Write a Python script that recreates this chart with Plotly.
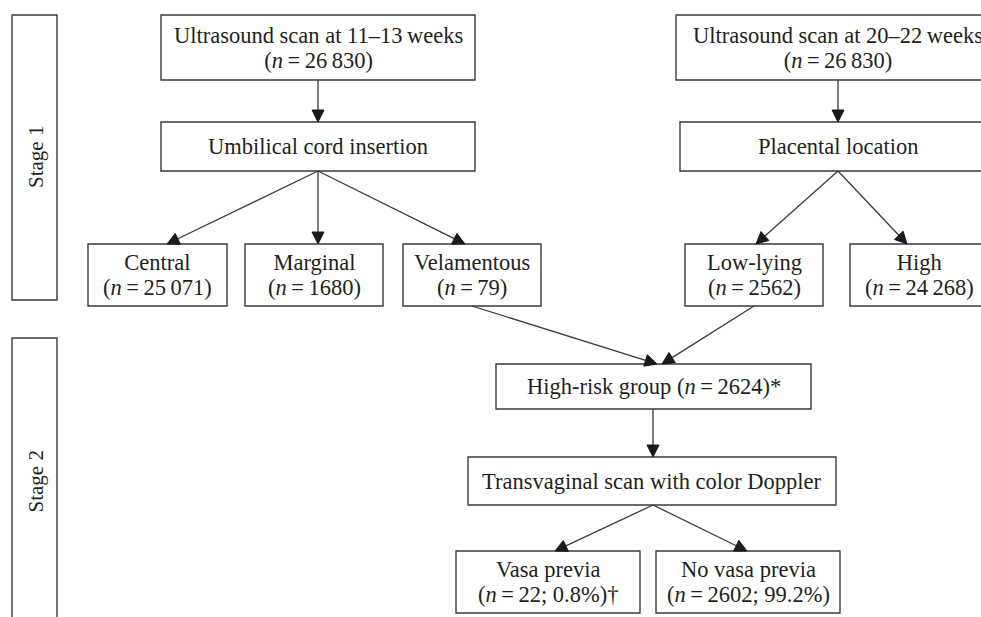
import math
import plotly.graph_objects as go

# ---- data (labels and counts) ----
node_names = ["Ultrasound scan at 11–13\u2009weeks", "Umbilical cord insertion",
              "Central", "Marginal", "Velamentous",
              "Ultrasound scan at 20–22\u2009weeks", "Placental location",
              "Low-lying", "High",
              "High-risk group", "Transvaginal scan with color Doppler",
              "Vasa previa", "No vasa previa"]
node_counts = ["26\u2009830", None, "25\u2009071", "1680", "79",
               "26\u2009830", None, "2562", "24\u2009268",
               "2624", None, "22", "2602"]
node_pcts = [None, None, None, None, None, None, None, None, None,
             None, None, "0.8%", "99.2%"]
node_marks = ["", "", "", "", "", "", "", "", "", "*", "", "†", ""]
stage_labels = ["Stage 1", "Stage 2"]

# edges: parent index -> child index
edge_from = [0, 1, 1, 1, 5, 6, 6, 4, 7, 9, 10, 10]
edge_to = [1, 2, 3, 4, 6, 7, 8, 9, 9, 10, 11, 12]

# ---- layout geometry (pixels) ----
W, H = 981, 617
boxes = [  # x0, x1, y0, y1
    (161, 475, 15, 80), (161, 475, 122, 171),
    (88, 227, 244, 306), (245, 383, 244, 306), (403, 541, 244, 306),
    (676, 1000, 15, 80), (680, 996, 122, 171),
    (685, 823, 244, 306), (850, 988, 244, 306),
    (496, 811, 364, 409), (468, 836, 457, 505),
    (456, 640, 551, 613), (656, 840, 551, 613),
]
inline_count = [False] * 13
inline_count[9] = True
edge_start_x = [318, 318, 318, 318, 838, 838, 838, 472, 754, 653, 653, 653]
edge_tip_x = [318, 167, 318, 465, 838, 756, 907, 657, 662, 653, 555, 747]
stage_boxes = [(12, 57, 15, 300), (12, 57, 338, 626)]

TXT = "#231f20"
LINE = "#3a3a3a"
FONT = "Liberation Serif"
FS = 22.5          # glyph size
BASE = 19.3        # base size -> line spacing 1.3*19.3 = 25px

shapes = []
annotations = []

def text(x, y, s, size=FS, angle=0, base=None):
    base = base or size
    annotations.append(dict(x=x, y=y, xref="x", yref="y",
                            text=f'<span style="font-size:{size}px">{s}</span>',
                            showarrow=False, xanchor="center", yanchor="middle",
                            textangle=angle, borderpad=0,
                            font=dict(family=FONT, size=base, color=TXT)))

for (x0, x1, y0, y1) in boxes:
    shapes.append(dict(type="rect", xref="x", yref="y", x0=x0, x1=x1, y0=y0, y1=y1,
                       line=dict(color=LINE, width=1.4), fillcolor="rgba(0,0,0,0)"))

eq = "\u2009=\u2009"
for i, (x0, x1, y0, y1) in enumerate(boxes):
    cx = (x0 + x1) / 2
    cy = (y0 + y1) / 2
    name = node_names[i]
    cnt = node_counts[i]
    if cnt is None:
        text(cx, cy, name)
    elif inline_count[i]:
        text(cx, cy, f"{name} (<i>n</i>{eq}{cnt}){node_marks[i]}")
    else:
        inner = f"<i>n</i>{eq}{cnt}"
        if node_pcts[i]:
            inner += f"; {node_pcts[i]}"
        s = (f'{name}</span><br><span style="font-size:{FS}px">'
             f'({inner}){node_marks[i]}')
        text(cx, cy, s, base=BASE)

for k, (a, b) in enumerate(zip(edge_from, edge_to)):
    sx, sy = edge_start_x[k], boxes[a][3]
    tx, ty = edge_tip_x[k], boxes[b][2]
    dx, dy = tx - sx, ty - sy
    L = math.hypot(dx, dy)
    ux, uy = dx / L, dy / L
    hl, hw = 12, 6
    bx, by = tx - ux * hl, ty - uy * hl
    shapes.append(dict(type="line", xref="x", yref="y", x0=sx, y0=sy, x1=bx, y1=by,
                       line=dict(color=LINE, width=1.3)))
    px, py = -uy, ux
    path = (f"M{tx},{ty} L{bx + px * hw},{by + py * hw} "
            f"L{bx - px * hw},{by - py * hw} Z")
    shapes.append(dict(type="path", xref="x", yref="y", path=path,
                       fillcolor="#1a1a1a", line=dict(color="#1a1a1a", width=1)))

for lab, (x0, x1, y0, y1) in zip(stage_labels, stage_boxes):
    shapes.append(dict(type="rect", xref="x", yref="y", x0=x0, x1=x1, y0=y0, y1=y1,
                       line=dict(color=LINE, width=1.4), fillcolor="rgba(0,0,0,0)"))
    cy = (y0 + y1) / 2
    text((x0 + x1) / 2 + 1, cy, lab, size=21, angle=-90)

fig = go.Figure()
fig.add_trace(go.Scatter(x=[0, W], y=[0, H], mode="markers",
                         marker=dict(opacity=0), hoverinfo="skip", showlegend=False))
fig.update_layout(
    width=W, height=H, margin=dict(l=0, r=0, t=0, b=0),
    paper_bgcolor="white", plot_bgcolor="white",
    xaxis=dict(range=[0, W], visible=False, fixedrange=True),
    yaxis=dict(range=[H, 0], visible=False, fixedrange=True),
    shapes=shapes, annotations=annotations, showlegend=False,
)
fig.write_html("out.html", config=dict(displayModeBar=False),
               post_script="document.body.style.margin='0';"
                           "document.body.style.overflow='hidden';")
